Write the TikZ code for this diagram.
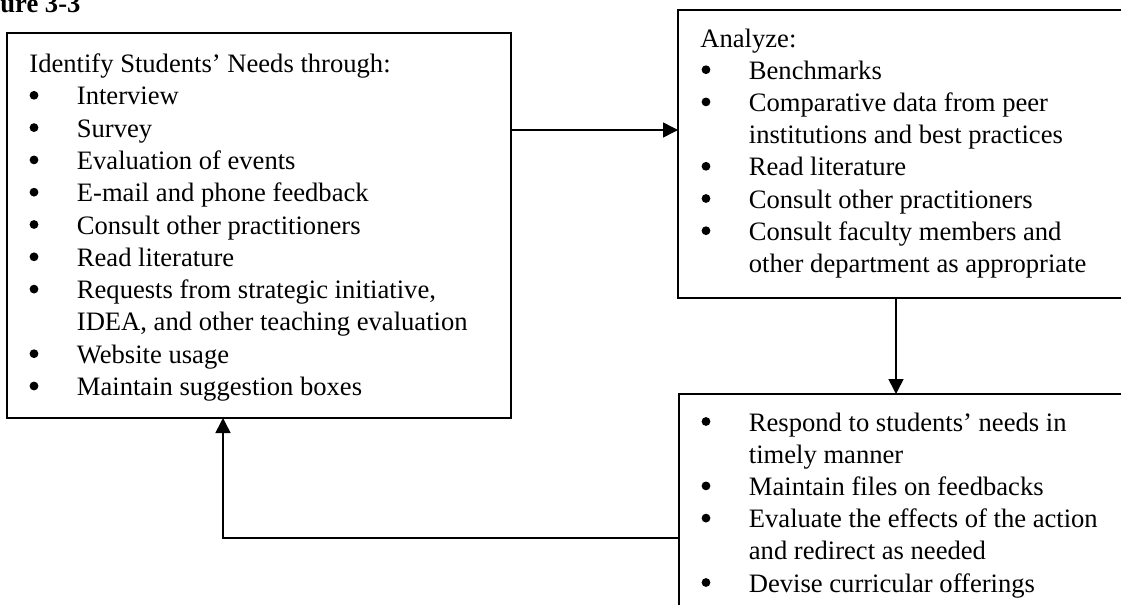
\documentclass[tikz,border=0pt]{standalone}
\usepackage{fontspec}
\setmainfont{Liberation Serif}
\usetikzlibrary{arrows.meta}
\begin{document}
\begin{tikzpicture}[x=0.5pt,y=-0.5pt,
  box/.style={draw, line width=0.9pt, rectangle, inner sep=0pt, outer sep=0pt, anchor=north west},
  txt/.style={anchor=base west, inner sep=0pt, font=\fontsize{13.3}{16}\selectfont},
  dot/.style={circle, fill, inner sep=0pt, minimum size=4.4pt},
  ttl/.style={anchor=base west, inner sep=0pt, font=\fontsize{13.3}{16}\selectfont\bfseries},
  flow/.style={draw, line width=0.8pt, -{Triangle[length=7.5pt,width=7.5pt]}}
]
\useasboundingbox (0,0) rectangle (1121,605);
\clip (0,0) rectangle (1121,605);

% bullet and its text, one line (#3 is the baseline)
\newcommand\itemline[4]{%
  \node[dot] (#1b) at (#2,#3-9.5) {};
  \node[txt] (#1) at (#2+42.5,#3) {#4};}

% title fragment
\node[ttl] (title) at (0,12) {ure 3-3};

% the three boxes
\node[box, minimum width=252pt, minimum height=192.5pt] (needs) at (7,33) {};
\node[box, minimum width=241pt, minimum height=144pt] (analyze) at (678,10) {};
\node[box, minimum width=241pt, minimum height=125pt] (respond) at (679,394) {};

% left box text
\node[txt] (needsh) at (29,72.5) {Identify Students’ Needs through:};
\itemline{a1}{34}{104.8}{Interview}
\itemline{a2}{34}{137.1}{Survey}
\itemline{a3}{34}{169.4}{Evaluation of events}
\itemline{a4}{34}{201.7}{E-mail and phone feedback}
\itemline{a5}{34}{234.0}{Consult other practitioners}
\itemline{a6}{34}{266.3}{Read literature}
\itemline{a7}{34}{298.6}{Requests from strategic initiative,}
\node[txt] (a7c) at (76.5,330.9) {IDEA, and other teaching evaluation};
\itemline{a8}{34}{363.2}{Website usage}
\itemline{a9}{34}{395.5}{Maintain suggestion boxes}

% upper right box text
\node[txt] (analyzeh) at (700,47) {Analyze:};
\itemline{b1}{706}{79.2}{Benchmarks}
\itemline{b2}{706}{111.4}{Comparative data from peer}
\node[txt] (b2c) at (748.5,143.6) {institutions and best practices};
\itemline{b3}{706}{175.8}{Read literature}
\itemline{b4}{706}{208.0}{Consult other practitioners}
\itemline{b5}{706}{240.2}{Consult faculty members and}
\node[txt] (b5c) at (748.5,272.4) {other department as appropriate};

% lower right box text
\itemline{c1}{706}{431}{Respond to students’ needs in}
\node[txt] (c1c) at (748.5,463.2) {timely manner};
\itemline{c2}{706}{495.4}{Maintain files on feedbacks}
\itemline{c3}{706}{527.6}{Evaluate the effects of the action}
\node[txt] (c3c) at (748.5,559.8) {and redirect as needed};
\itemline{c4}{706}{592}{Devise curricular offerings}

% connector levels
\coordinate (r1) at (0,130);
\coordinate (r2) at (896,0);
\coordinate (r3) at (0,538);
\coordinate (r4) at (223,0);

\draw[flow] (needs.east |- r1) -- (analyze.west |- r1);
\draw[flow] (analyze.south -| r2) -- (respond.north -| r2);
\draw[flow] (respond.west |- r3) -| (needs.south -| r4);
\end{tikzpicture}
\end{document}
